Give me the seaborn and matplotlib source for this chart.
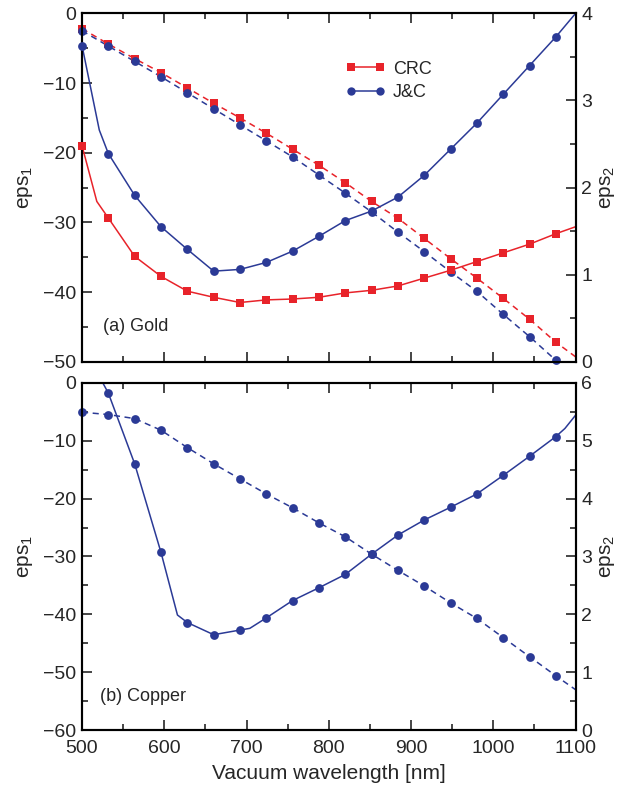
import pandas as pd
import matplotlib
matplotlib.use('Agg')
import matplotlib.pyplot as plt
from matplotlib.lines import Line2D
from matplotlib.ticker import MultipleLocator
import seaborn as sns

sns.set_theme(style='ticks')
plt.rcParams['font.family'] = ['Liberation Sans', 'DejaVu Sans']
plt.rcParams['mathtext.default'] = 'regular'

# ---------------- data ----------------
# marker wavelengths [nm]
wl = [500, 532, 564, 596, 628, 660, 692, 724, 756, 788,
      820, 852, 884, 916, 948, 980, 1012, 1044, 1076]

# (a) Gold
gold_crc_eps1 = [-2.2, -4.4, -6.5, -8.5, -10.7, -12.9, -15.0, -17.2, -19.5, -21.8,
                 -24.3, -27.0, -29.4, -32.3, -35.2, -38.0, -40.9, -43.9, -47.2]
gold_jc_eps1 = [-2.5, -4.7, -6.9, -9.1, -11.4, -13.7, -16.0, -18.3, -20.6, -23.2,
                -25.8, -28.5, -31.4, -34.2, -37.1, -39.9, -43.2, -46.4, -49.8]
gold_crc_eps2 = [2.48, 1.65, 1.21, 0.98, 0.81, 0.74, 0.68, 0.71, 0.72, 0.74,
                 0.79, 0.82, 0.87, 0.96, 1.05, 1.15, 1.25, 1.35, 1.47]
gold_jc_eps2 = [3.63, 2.39, 1.91, 1.55, 1.29, 1.04, 1.06, 1.14, 1.27, 1.44,
                1.62, 1.73, 1.89, 2.14, 2.44, 2.74, 3.07, 3.40, 3.73]

# line-only points (knees and ends between markers)
gold_crc_eps1_extra = [(1100, -49.3)]
gold_jc_eps1_extra = [(1100, -52.4)]
gold_crc_eps2_extra = [(518, 1.84), (1100, 1.55)]
gold_jc_eps2_extra = [(521, 2.66), (1100, 4.0)]

# (b) Copper, J&C only
cu_jc_eps1 = [-5.1, -5.5, -6.2, -8.2, -11.2, -14.0, -16.6, -19.2, -21.6, -24.2,
              -26.6, -29.6, -32.4, -35.1, -38.0, -40.7, -44.0, -47.3, -50.6]
cu_jc_eps2 = [None, 5.82, 4.60, 3.07, 1.86, 1.65, 1.73, 1.94, 2.24, 2.46,
              2.69, 3.04, 3.37, 3.63, 3.85, 4.08, 4.40, 4.73, 5.07]
cu_jc_eps1_extra = [(1100, -53.0)]
cu_jc_eps2_extra = [(524, 6.03), (616, 1.99), (704, 1.76), (1087, 5.21), (1100, 5.44)]

red = '#E8232A'
blue = '#2B3A96'


def curve(vals, extra):
    pts = [(w, v) for w, v in zip(wl, vals) if v is not None] + list(extra)
    return pd.DataFrame(sorted(pts), columns=['wl', 'eps'])


def draw(ax, vals, extra, color, marker, dashed):
    df = curve(vals, extra)
    sns.lineplot(data=df, x='wl', y='eps', ax=ax, color=color, lw=1.1,
                 estimator=None, sort=True)
    if dashed:
        ax.lines[-1].set_dashes([4, 3])
    pts = pd.DataFrame({'wl': wl, 'eps': vals}).dropna()
    sns.scatterplot(data=pts, x='wl', y='eps', ax=ax, color=color, marker=marker,
                    s=40, linewidth=0, clip_on=False, zorder=5)


def style_axes(ax, ax2, ylo, yhi2, show_x):
    ax.set_xlim(500, 1100)
    ax.set_ylim(ylo, 0)
    ax2.set_ylim(0, yhi2)
    ax.xaxis.set_major_locator(MultipleLocator(100))
    ax.xaxis.set_minor_locator(MultipleLocator(50))
    ax.yaxis.set_major_locator(MultipleLocator(10))
    ax.yaxis.set_minor_locator(MultipleLocator(5))
    ax2.yaxis.set_major_locator(MultipleLocator(1))
    ax2.yaxis.set_minor_locator(MultipleLocator(0.5))
    for a in (ax, ax2):
        a.tick_params(which='major', direction='in', length=7, width=1.2,
                      labelsize=14, pad=4)
        a.tick_params(which='minor', direction='in', length=4, width=1.2)
        for sp in a.spines.values():
            sp.set_linewidth(1.5)
            sp.set_color('black')
    ax.tick_params(axis='x', which='major', pad=7)
    ax.tick_params(which='both', top=True, right=False, labelbottom=show_x)
    ax.set_ylabel('eps$_1$', fontsize=15, labelpad=6)
    ax2.set_ylabel('eps$_2$', fontsize=15, labelpad=4)
    if not show_x:
        ax.set_xlabel('')
    ax2.set_xlabel('')


fig = plt.figure(figsize=(6.28, 7.85), dpi=100)
ax_a = fig.add_axes([0.1306, 0.5392, 0.786, 0.4438])
ax_a2 = ax_a.twinx()
ax_b = fig.add_axes([0.1306, 0.0697, 0.786, 0.4428])
ax_b2 = ax_b.twinx()

# (a) Gold
draw(ax_a, gold_crc_eps1, gold_crc_eps1_extra, red, 's', True)
draw(ax_a, gold_jc_eps1, gold_jc_eps1_extra, blue, 'o', True)
draw(ax_a2, gold_crc_eps2, gold_crc_eps2_extra, red, 's', False)
draw(ax_a2, gold_jc_eps2, gold_jc_eps2_extra, blue, 'o', False)
style_axes(ax_a, ax_a2, -50, 4, False)
ax_a.text(0.043, 0.10, '(a) Gold', transform=ax_a.transAxes, fontsize=13,
          va='center', ha='left')

handles = [Line2D([], [], color=red, marker='s', ms=6, lw=1.1, mew=0),
           Line2D([], [], color=blue, marker='o', ms=6, lw=1.1, mew=0)]
ax_a2.legend(handles, ['CRC', 'J&C'], loc='upper left', bbox_to_anchor=(0.52, 0.885),
             frameon=False, fontsize=13, numpoints=2, handlelength=2.2,
             handletextpad=0.4, labelspacing=0.35, borderaxespad=0)

# (b) Copper
draw(ax_b, cu_jc_eps1, cu_jc_eps1_extra, blue, 'o', True)
draw(ax_b2, cu_jc_eps2, cu_jc_eps2_extra, blue, 'o', False)
style_axes(ax_b, ax_b2, -60, 6, True)
ax_b.set_xlabel('Vacuum wavelength [nm]', fontsize=15, labelpad=5)
ax_b.text(0.036, 0.097, '(b) Copper', transform=ax_b.transAxes, fontsize=13,
          va='center', ha='left')

fig.savefig('out.png', dpi=100)
